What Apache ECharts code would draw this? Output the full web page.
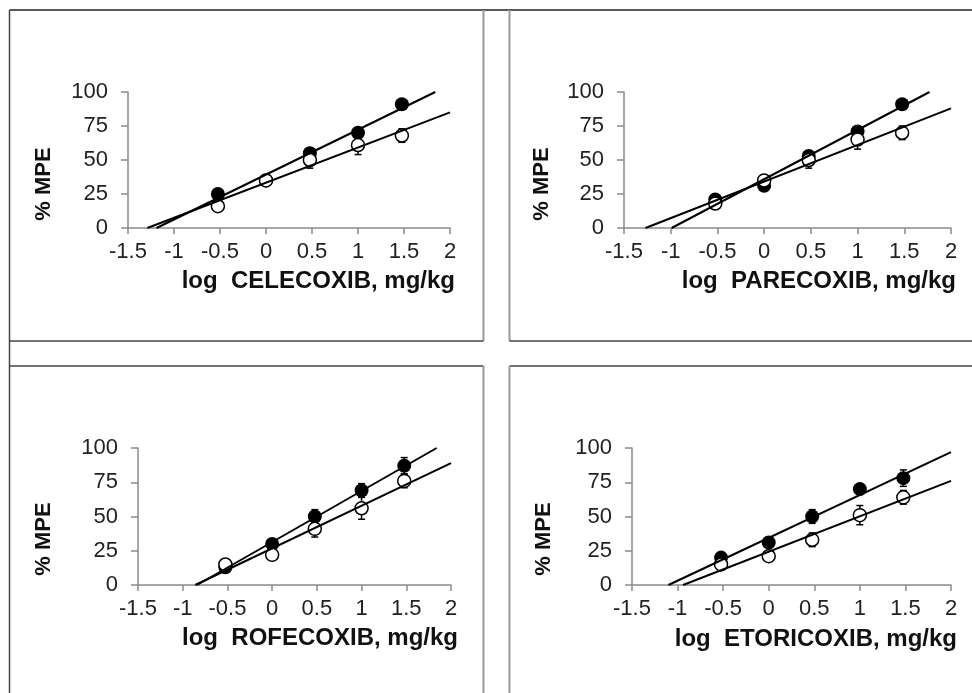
<!DOCTYPE html>
<html>
<head>
<meta charset="utf-8">
<script src="https://cdn.jsdelivr.net/npm/echarts@6/dist/echarts.min.js"></script>
<style>
  html, body { margin: 0; padding: 0; background: #fff; }
  #chart { width: 972px; height: 693px; }
</style>
</head>
<body>
<div id="chart"></div>
<script>
// log doses (0.3, 1, 3, 10, 30 mg/kg)
const logDoses = [-0.523, 0, 0.477, 1, 1.477];
const drugNames = ['CELECOXIB', 'PARECOXIB', 'ROFECOXIB', 'ETORICOXIB'];

// CELECOXIB
const celecoxibFilled = [25, 35, 55, 70, 91];
const celecoxibFilledErr = [2, 2, 4, 3, 3];
const celecoxibOpen = [16, 35, 50, 61, 68];
const celecoxibOpenErr = [2, 2, 6, 7, 5];
const celecoxibFitFilled = [[-1.19, 0], [1.84, 100]];
const celecoxibFitOpen = [[-1.29, 0], [2, 85]];

// PARECOXIB
const parecoxibFilled = [21, 31, 53, 71, 91];
const parecoxibFilledErr = [2, 2, 3, 3, 3];
const parecoxibOpen = [18, 35, 50, 65, 70];
const parecoxibOpenErr = [2, 2, 6, 7, 5];
const parecoxibFitFilled = [[-0.99, 0], [1.77, 100]];
const parecoxibFitOpen = [[-1.27, 0], [2, 88]];

// ROFECOXIB
const rofecoxibFilled = [13, 30, 50, 69, 87];
const rofecoxibFilledErr = [2, 2, 5, 5, 6];
const rofecoxibOpen = [15, 22, 41, 56, 76];
const rofecoxibOpenErr = [2, 3, 6, 8, 5];
const rofecoxibFitFilled = [[-0.84, 0], [1.84, 100]];
const rofecoxibFitOpen = [[-0.86, 0], [2, 89]];

// ETORICOXIB
const etoricoxibFilled = [20, 31, 50, 70, 78];
const etoricoxibFilledErr = [2, 2, 5, 3, 6];
const etoricoxibOpen = [15, 21, 33, 51, 64];
const etoricoxibOpenErr = [2, 3, 5, 7, 5];
const etoricoxibFitFilled = [[-1.10, 0], [2, 97]];
const etoricoxibFitOpen = [[-0.94, 0], [2, 76]];

const panels = [
  { filled: celecoxibFilled, filledErr: celecoxibFilledErr, open: celecoxibOpen, openErr: celecoxibOpenErr, fitFilled: celecoxibFitFilled, fitOpen: celecoxibFitOpen },
  { filled: parecoxibFilled, filledErr: parecoxibFilledErr, open: parecoxibOpen, openErr: parecoxibOpenErr, fitFilled: parecoxibFitFilled, fitOpen: parecoxibFitOpen },
  { filled: rofecoxibFilled, filledErr: rofecoxibFilledErr, open: rofecoxibOpen, openErr: rofecoxibOpenErr, fitFilled: rofecoxibFitFilled, fitOpen: rofecoxibFitOpen },
  { filled: etoricoxibFilled, filledErr: etoricoxibFilledErr, open: etoricoxibOpen, openErr: etoricoxibOpenErr, fitFilled: etoricoxibFitFilled, fitOpen: etoricoxibFitOpen },
];

// layout (pixels)
const gridBoxes = [
  { left: 128, top: 92, width: 322, height: 136 },
  { left: 624, top: 92, width: 327, height: 136 },
  { left: 138, top: 448, width: 313, height: 137 },
  { left: 632, top: 448, width: 319, height: 137 },
];
const yNamePos = [[44, 184], [542, 184], [44, 539], [544, 539]];
const xNamePos = [[455, 281], [956, 281], [458, 638], [957, 639]];

const FONT = '"Liberation Sans", Arial, sans-serif';
const AXIS_GRAY = '#8a8a8a';

function withErr(values, errs) {
  return values.map((v, i) => [logDoses[i], v, errs[i]]);
}

function errorBarItem(params, api) {
  const x = api.value(0);
  const y = api.value(1);
  const e = api.value(2);
  const hi = api.coord([x, y + e]);
  const lo = api.coord([x, y - e]);
  const cap = 3.5;
  const style = { stroke: '#000', lineWidth: 1.5 };
  return {
    type: 'group',
    children: [
      { type: 'line', shape: { x1: hi[0], y1: hi[1], x2: lo[0], y2: lo[1] }, style },
      { type: 'line', shape: { x1: hi[0] - cap, y1: hi[1], x2: hi[0] + cap, y2: hi[1] }, style },
      { type: 'line', shape: { x1: lo[0] - cap, y1: lo[1], x2: lo[0] + cap, y2: lo[1] }, style },
    ],
  };
}

const grid = gridBoxes.map(b => ({ ...b, containLabel: false }));

const xAxis = gridBoxes.map((b, i) => ({
  type: 'value',
  gridIndex: i,
  min: -1.5,
  max: 2,
  interval: 0.5,
  axisLine: { show: true, onZero: false, lineStyle: { color: AXIS_GRAY, width: 1.5 } },
  axisTick: { show: true, length: 6, lineStyle: { color: AXIS_GRAY, width: 1.5 } },
  splitLine: { show: false },
  axisLabel: { fontSize: 22, color: '#222', fontFamily: FONT, margin: 13 },
}));

const yAxis = gridBoxes.map((b, i) => ({
  type: 'value',
  gridIndex: i,
  min: 0,
  max: 100,
  interval: 25,
  axisLine: { show: true, onZero: false, lineStyle: { color: AXIS_GRAY, width: 1.5 } },
  axisTick: { show: true, length: 7, lineStyle: { color: AXIS_GRAY, width: 1.5 } },
  splitLine: { show: false },
  axisLabel: { fontSize: 22, color: '#222', fontFamily: FONT, margin: 20 },
}));

const series = [];
panels.forEach((p, i) => {
  series.push({
    type: 'custom', xAxisIndex: i, yAxisIndex: i, z: 2,
    renderItem: errorBarItem, data: withErr(p.filled, p.filledErr),
  });
  series.push({
    type: 'custom', xAxisIndex: i, yAxisIndex: i, z: 2,
    renderItem: errorBarItem, data: withErr(p.open, p.openErr),
  });
  series.push({
    type: 'scatter', xAxisIndex: i, yAxisIndex: i, z: 3,
    symbol: 'circle', symbolSize: 14,
    itemStyle: { color: '#000', opacity: 1 },
    data: p.filled.map((v, k) => [logDoses[k], v]),
  });
  series.push({
    type: 'scatter', xAxisIndex: i, yAxisIndex: i, z: 4,
    symbol: 'circle', symbolSize: 13,
    itemStyle: { color: '#fff', borderColor: '#000', borderWidth: 1.5, opacity: 1 },
    data: p.open.map((v, k) => [logDoses[k], v]),
  });
  series.push({
    type: 'line', xAxisIndex: i, yAxisIndex: i, z: 5,
    showSymbol: false, lineStyle: { color: '#000', width: 2 },
    data: p.fitFilled,
  });
  series.push({
    type: 'line', xAxisIndex: i, yAxisIndex: i, z: 5,
    showSymbol: false, lineStyle: { color: '#000', width: 2 },
    data: p.fitOpen,
  });
});

// panel frames
const dark = { stroke: '#444', lineWidth: 1.5 };
const gray = { stroke: '#999', lineWidth: 2 };
function seg(x1, y1, x2, y2, style) {
  return { type: 'line', silent: true, shape: { x1, y1, x2, y2 }, style };
}
const frames = [
  seg(9.5, 10, 972, 10, { stroke: '#222', lineWidth: 1.5 }),
  seg(9.5, 10, 9.5, 693, dark),
  seg(483.5, 10, 483.5, 341, gray),
  seg(9.5, 341, 483.5, 341, dark),
  seg(509.5, 10, 509.5, 341, gray),
  seg(509.5, 341, 972, 341, dark),
  seg(9.5, 366, 483.5, 366, dark),
  seg(483.5, 366, 483.5, 693, gray),
  seg(509.5, 366, 972, 366, dark),
  seg(509.5, 366, 509.5, 693, gray),
];

const labels = [];
drugNames.forEach((name, i) => {
  labels.push({
    type: 'text', silent: true,
    x: xNamePos[i][0], y: xNamePos[i][1],
    style: {
      text: 'log  ' + name + ', mg/kg',
      font: 'bold 24px ' + FONT,
      fill: '#111', align: 'right', verticalAlign: 'middle',
    },
  });
  labels.push({
    type: 'text', silent: true,
    x: yNamePos[i][0], y: yNamePos[i][1], rotation: Math.PI / 2,
    style: {
      text: '% MPE',
      font: 'bold 22px ' + FONT,
      fill: '#111', align: 'center', verticalAlign: 'middle',
    },
  });
});

const chart = echarts.init(document.getElementById('chart'), null, { renderer: 'canvas' });
chart.setOption({
  animation: false,
  backgroundColor: '#fff',
  grid,
  xAxis,
  yAxis,
  series,
  graphic: frames.concat(labels),
});
</script>
</body>
</html>
